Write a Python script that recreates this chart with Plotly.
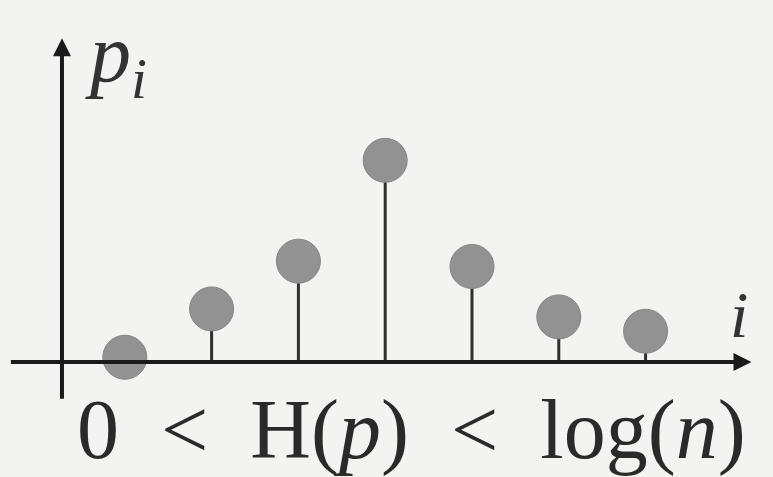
import plotly.graph_objects as go

# stem plot of a distribution p_i
idx = [1, 2, 3, 4, 5, 6, 7]
p = [0.009, 0.10, 0.19, 0.38, 0.18, 0.085, 0.058]

label_y = "<i>p<sub>i</sub></i>"
label_x = "<i>i</i>"
caption = "0&nbsp; &lt; &nbsp;H(<i>p</i>)&nbsp; &lt; &nbsp;log(<i>n</i>)"

stem_x, stem_y = [], []
for xi, pi in zip(idx, p):
    stem_x += [xi, xi, None]
    stem_y += [0, pi, None]

fig = go.Figure()
fig.add_trace(go.Scatter(x=stem_x, y=stem_y, mode="lines",
                         line=dict(color="#2e2e2e", width=3), hoverinfo="skip"))
fig.add_trace(go.Scatter(x=idx, y=p, mode="markers",
                         marker=dict(size=44, color="#929292",
                                     line=dict(color="#858585", width=1))))

# axes drawn as arrows
fig.add_annotation(x=8.22, y=0, ax=-0.33, ay=0, xref="x", yref="y", axref="x", ayref="y",
                   showarrow=True, arrowhead=2, arrowsize=0.9, arrowwidth=4,
                   arrowcolor="#1a1a1a", text="")
fig.add_annotation(x=0.276, y=0.61, ax=0.276, ay=-0.072, xref="x", yref="y", axref="x", ayref="y",
                   showarrow=True, arrowhead=2, arrowsize=0.9, arrowwidth=4,
                   arrowcolor="#1a1a1a", text="")

serif = "Liberation Serif, Times New Roman, serif"
fig.add_annotation(x=0.52, y=0.57, xref="x", yref="y", text=label_y, showarrow=False,
                   xanchor="left", yanchor="middle", font=dict(family=serif, size=82, color="#333"))
fig.add_annotation(x=8.08, y=0.09, xref="x", yref="y", text=label_x, showarrow=False,
                   xanchor="center", yanchor="middle", font=dict(family=serif, size=66, color="#333"))
fig.add_annotation(x=4.3, y=-0.128, xref="x", yref="y", text=caption, showarrow=False,
                   xanchor="center", yanchor="middle", font=dict(family=serif, size=84, color="#2a2a2a"))

fig.update_layout(width=773, height=477, margin=dict(l=0, r=0, t=0, b=0),
                  paper_bgcolor="#f3f3f2", plot_bgcolor="#f3f3f2", showlegend=False)
fig.update_xaxes(range=[-0.438, 8.468], visible=False)
fig.update_yaxes(range=[-0.2166, 0.682], visible=False)
fig.write_html("out.html", config={"displayModeBar": False},
               post_script="document.body.style.margin='0';document.body.style.overflow='hidden';")
